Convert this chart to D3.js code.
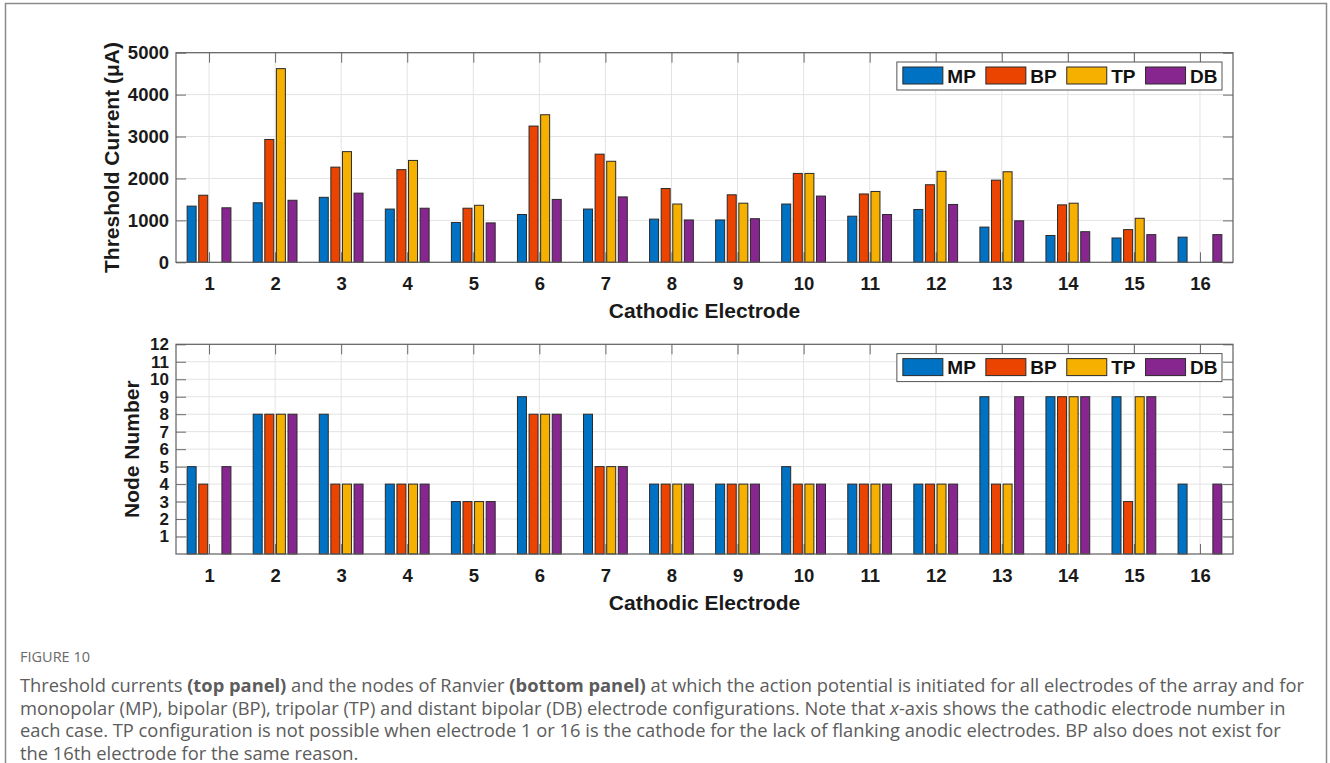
<!DOCTYPE html>
<html>
<head>
<meta charset="utf-8">
<script src="https://cdn.jsdelivr.net/npm/d3@7"></script>
<style>
  html, body { margin: 0; padding: 0; background: #fff; }
  svg { display: block; }
</style>
</head>
<body>
<svg id="chart" width="1330" height="763"></svg>
<script>
// ---------------- DATA ----------------
const categories = ["1","2","3","4","5","6","7","8","9","10","11","12","13","14","15","16"];
const seriesNames = ["MP", "BP", "TP", "DB"];
const seriesColors = ["#0072C4", "#EA4400", "#F6B100", "#88268F"];

// Threshold current (µA), top panel
const thresholdMP = [1340, 1420, 1550, 1270, 950, 1140, 1270, 1030, 1010, 1390, 1100, 1260, 840, 640, 580, 600];
const thresholdBP = [1600, 2930, 2270, 2210, 1290, 3250, 2580, 1760, 1610, 2120, 1630, 1850, 1960, 1370, 780, null];
const thresholdTP = [null, 4620, 2640, 2430, 1360, 3520, 2410, 1390, 1410, 2120, 1690, 2170, 2160, 1410, 1050, null];
const thresholdDB = [1300, 1480, 1650, 1290, 940, 1500, 1560, 1010, 1040, 1580, 1140, 1380, 990, 730, 660, 660];

// Node number, bottom panel
const nodeMP = [5, 8, 8, 4, 3, 9, 8, 4, 4, 5, 4, 4, 9, 9, 9, 4];
const nodeBP = [4, 8, 4, 4, 3, 8, 5, 4, 4, 4, 4, 4, 4, 9, 3, null];
const nodeTP = [null, 8, 4, 4, 3, 8, 5, 4, 4, 4, 4, 4, 4, 9, 9, null];
const nodeDB = [5, 8, 4, 4, 3, 8, 5, 4, 4, 4, 4, 4, 9, 9, 9, 4];

const thresholdTicks = [0, 1000, 2000, 3000, 4000, 5000];
const nodeTicks = [1, 2, 3, 4, 5, 6, 7, 8, 9, 10, 11, 12];

const xTitle = "Cathodic Electrode";
const yTitleTop = "Threshold Current (\u03BCA)";
const yTitleBottom = "Node Number";

// ---------------- DRAW ----------------
const svg = d3.select("#chart");
const FONT = "'Liberation Sans', Arial, Helvetica, sans-serif";

// outer figure frame
svg.append("rect")
  .attr("x", 5.5).attr("y", 3.5).attr("width", 1321).attr("height", 800)
  .attr("fill", "none").attr("stroke", "#8a8a8a").attr("stroke-width", 1.5);

const L = 176, R = 1233;

function panel(cfg) {
  const g = svg.append("g");
  const x = d3.scaleBand().domain(categories).range([L, R]).padding(0);
  const xs = d3.scaleBand().domain(seriesNames).range([0, x.bandwidth()])
    .paddingInner(0.138).paddingOuter(0.917);
  const y = d3.scaleLinear().domain(cfg.domain).range([cfg.bottom, cfg.top]);

  // grid
  const grid = g.append("g").attr("stroke", "#e3e3e3").attr("stroke-width", 1);
  grid.selectAll("line.gx").data(categories).join("line")
    .attr("x1", d => x(d) + x.bandwidth() / 2).attr("x2", d => x(d) + x.bandwidth() / 2)
    .attr("y1", cfg.top).attr("y2", cfg.bottom);
  grid.selectAll("line.gy").data(cfg.gridTicks).join("line")
    .attr("x1", L).attr("x2", R).attr("y1", d => y(d)).attr("y2", d => y(d));

  // inward ticks + labels via d3 axes
  const xCenter = d3.scalePoint().domain(categories).range([L + x.bandwidth() / 2, R - x.bandwidth() / 2]);
  const axB = g.append("g").attr("transform", `translate(0,${cfg.bottom})`)
    .call(d3.axisBottom(xCenter).tickSize(-10).tickPadding(15).tickSizeOuter(0));
  const axT = g.append("g").attr("transform", `translate(0,${cfg.top})`)
    .call(d3.axisTop(xCenter).tickSize(-10).tickFormat("").tickSizeOuter(0));
  const axLft = g.append("g").attr("transform", `translate(${L},0)`)
    .call(d3.axisLeft(y).tickValues(cfg.ticks).tickFormat(d3.format("d")).tickSize(-10).tickPadding(7).tickSizeOuter(0));
  const axRt = g.append("g").attr("transform", `translate(${R},0)`)
    .call(d3.axisRight(y).tickValues(cfg.ticks).tickSize(-10).tickFormat("").tickSizeOuter(0));
  [axB, axT, axLft, axRt].forEach(a => {
    a.select(".domain").remove();
    a.selectAll(".tick line").attr("stroke", "#6a6a6a").attr("stroke-width", 1);
    a.selectAll("text").attr("font-family", FONT).attr("font-weight", "bold")
      .attr("font-size", 18.5).attr("fill", "#1a1a1a");
  });
  axLft.selectAll("text").attr("font-size", cfg.yTickSize);

  // bars
  const rows = categories.map((c, i) => ({ c, vals: cfg.series.map((s, j) => ({ name: seriesNames[j], v: s[i], color: seriesColors[j] })) }));
  const bars = g.append("g");
  bars.selectAll("g").data(rows).join("g")
    .attr("transform", d => `translate(${x(d.c)},0)`)
    .selectAll("rect").data(d => d.vals.filter(v => v.v != null)).join("rect")
      .attr("x", d => xs(d.name) + 0.5)
      .attr("width", xs.bandwidth() - 1)
      .attr("y", d => y(d.v))
      .attr("height", d => y(cfg.domain[0]) - y(d.v))
      .attr("fill", d => d.color)
      .attr("stroke", "#2a2a2a").attr("stroke-width", 1);

  // frame
  g.append("rect").attr("x", L).attr("y", cfg.top).attr("width", R - L).attr("height", cfg.bottom - cfg.top)
    .attr("fill", "none").attr("stroke", "#606060").attr("stroke-width", 1.2);

  // axis titles
  g.append("text").attr("x", (L + R) / 2).attr("y", cfg.bottom + 48)
    .attr("text-anchor", "middle").attr("dominant-baseline", "central")
    .attr("font-family", FONT).attr("font-weight", "bold").attr("font-size", 21).attr("fill", "#1a1a1a")
    .text(xTitle);
  g.append("text")
    .attr("transform", `translate(${cfg.ytx},${(cfg.top + cfg.bottom) / 2}) rotate(-90)`)
    .attr("text-anchor", "middle").attr("dominant-baseline", "central")
    .attr("font-family", FONT).attr("font-weight", "bold").attr("font-size", 21).attr("fill", "#1a1a1a")
    .text(cfg.yTitle);

  // legend
  const lg = g.append("g");
  const box = lg.append("rect").attr("fill", "#fff").attr("stroke", "#555").attr("stroke-width", 1);
  let cx = 6;
  seriesNames.forEach((n, j) => {
    lg.append("rect").attr("x", cx).attr("y", 5).attr("width", 40).attr("height", 17)
      .attr("fill", seriesColors[j]).attr("stroke", "#2a2a2a").attr("stroke-width", 1);
    const t = lg.append("text").attr("x", cx + 44.5).attr("y", 14).attr("dominant-baseline", "central")
      .attr("font-family", FONT).attr("font-weight", "bold").attr("font-size", 19).attr("fill", "#111")
      .text(n);
    const w = t.node().getComputedTextLength();
    cx = cx + 44.5 + w + (j < seriesNames.length - 1 ? 10 : 4.5);
  });
  box.attr("x", 0).attr("y", 0).attr("width", cx).attr("height", 28);
  lg.attr("transform", `translate(${1222 - cx},${cfg.top + 9.3})`);
}

panel({
  top: 52.7, bottom: 262.3, domain: [0, 5000], ticks: thresholdTicks, gridTicks: thresholdTicks,
  series: [thresholdMP, thresholdBP, thresholdTP, thresholdDB], yTitle: yTitleTop, ytx: 111, yTickSize: 18.5
});
panel({
  top: 344.3, bottom: 554, domain: [0, 12], ticks: nodeTicks, gridTicks: nodeTicks,
  series: [nodeMP, nodeBP, nodeTP, nodeDB], yTitle: yTitleBottom, ytx: 131, yTickSize: 17
});

// ---------------- CAPTION ----------------
const CAP = "'Open Sans', Lato, sans-serif";
svg.append("text").attr("x", 20).attr("y", 656).attr("dominant-baseline", "central")
  .attr("font-family", CAP).attr("font-size", 14.5).attr("fill", "#6a6a6a").text("FIGURE 10");

const captionLines = [
  [["Threshold currents ", ""], ["(top panel)", "b"], [" and the nodes of Ranvier ", ""], ["(bottom panel)", "b"], [" at which the action potential is initiated for all electrodes of the array and for", ""]],
  [["monopolar (MP), bipolar (BP), tripolar (TP) and distant bipolar (DB) electrode configurations. Note that ", ""], ["x", "i"], ["-axis shows the cathodic electrode number in", ""]],
  [["each case. TP configuration is not possible when electrode 1 or 16 is the cathode for the lack of flanking anodic electrodes. BP also does not exist for", ""]],
  [["the 16th electrode for the same reason.", ""]]
];
const capTexts = captionLines.map((parts, i) => {
  const t = svg.append("text").attr("x", 20).attr("y", 684 + i * 22.5).attr("dominant-baseline", "central")
    .attr("font-family", CAP).attr("font-size", 18).attr("fill", "#5c5c5c");
  parts.forEach(([s, st]) => {
    const ts = t.append("tspan").text(s);
    if (st === "b") ts.attr("font-weight", "bold");
    if (st === "i") ts.attr("font-style", "italic");
  });
  return t;
});
// fit font size so the first line spans to the same right edge as the original
const w0 = capTexts[0].node().getComputedTextLength();
const fs = 18 * (1285 / w0);
capTexts.forEach(t => t.attr("font-size", fs));
</script>
</body>
</html>
